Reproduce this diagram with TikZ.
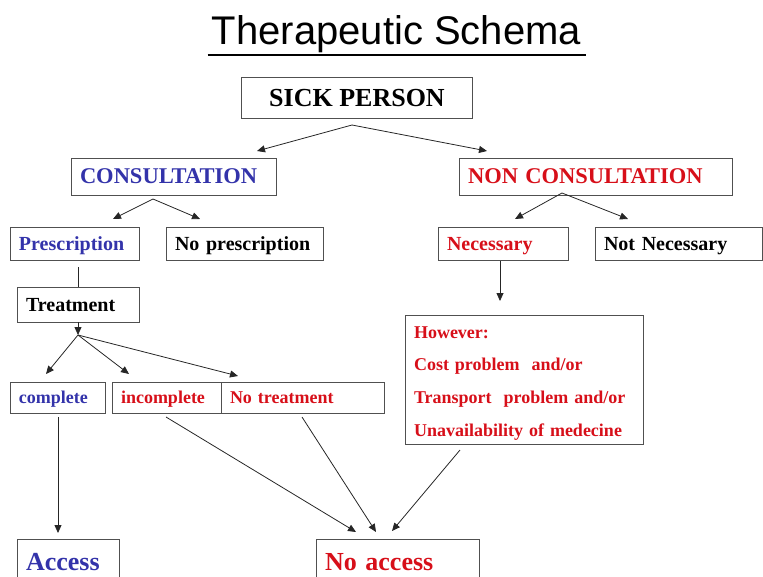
\documentclass[tikz,border=0pt]{standalone}
\usepackage{fontspec}
\setmainfont{Liberation Serif}
\newfontfamily\titlefont{Liberation Sans}
\usetikzlibrary{arrows.meta}
\definecolor{myblue}{RGB}{51,51,170}
\definecolor{myred}{RGB}{215,15,25}
\definecolor{boxgray}{RGB}{80,80,80}
\tikzset{
  bxm/.style={draw=boxgray, line width=1pt, rectangle, anchor=west, inner xsep=8.5pt, inner ysep=0pt, align=left, font=\bfseries},
  bx/.style={bxm, text depth=0pt},
  f26/.style={font=\bfseries\fontsize{26}{30}\selectfont, text height=17.2pt},
  f22/.style={font=\bfseries\fontsize{22.5}{26}\selectfont, text height=14.9pt},
  f20/.style={font=\bfseries\fontsize{20}{24}\selectfont, text height=13.2pt},
  f18/.style={font=\bfseries\fontsize{18}{22}\selectfont, text height=11.9pt},
  arr/.style={draw=black!85, line width=0.8pt, -{Triangle[length=8pt,width=7pt]}},
  ln/.style={draw=black!85, line width=0.8pt},
}
\begin{document}
\begin{tikzpicture}[x=1pt,y=-1pt]
\useasboundingbox (0,0) rectangle (763,576);
\clip (0,0) rectangle (763,576);
% title
\node[anchor=base, inner sep=0pt] (title) at (396.5,44) {\titlefont\fontsize{40}{46}\selectfont Therapeutic Schema};
\draw[line width=2.5pt] (207.5,55) -- (585.5,55);
% boxes
\node[bx, f26, minimum width=231pt, minimum height=41pt, align=center] (sick) at (241,97.5) {SICK PERSON};
\node[bx, f22, minimum width=205pt, text width=188pt, minimum height=37pt, text=myblue] (cons) at (71,176.5) {CONSULTATION};
\node[bx, f22, minimum width=273pt, text width=256pt, minimum height=37pt, text=myred] (noncons) at (459,176.5) {NON CONSULTATION};
\node[bx, f20, minimum width=129pt, text width=112pt, minimum height=33pt, text=myblue] (presc) at (10,243.5) {Prescription};
\node[bx, f20, minimum width=157pt, text width=140pt, minimum height=33pt] (nopresc) at (166,243.5) {No prescription};
\node[bx, f20, minimum width=130pt, text width=113pt, minimum height=33pt, text=myred] (nec) at (438,243.5) {Necessary};
\node[bx, f20, minimum width=167pt, text width=150pt, minimum height=33pt] (notnec) at (595,243.5) {Not Necessary};
\node[bx, f20, minimum width=122pt, text width=105pt, minimum height=35pt] (treat) at (17,304.5) {Treatment};
\node[bx, f18, minimum width=95pt, text width=78pt, minimum height=31pt, text=myblue] (compl) at (10,397.5) {complete};
\node[bx, f18, minimum width=109pt, text width=92pt, minimum height=31pt, text=myred] (incompl) at (112,397.5) {incomplete};
\node[bx, f18, minimum width=163pt, text width=146pt, minimum height=31pt, text=myred] (notreat) at (221,397.5) {No treatment};
\node[bxm, minimum width=238pt, text width=221pt, minimum height=129pt, text=myred, font=\bfseries\fontsize{18}{32.7}\selectfont] (however) at (405,379.5) {\rule{0pt}{19pt}However:\\Cost problem\ \ and/or\\Transport\ \ problem and/or\\Unavailability of medecine};
\node[bx, f26, minimum width=102pt, text width=85pt, minimum height=46pt, text=myblue] (access) at (17,562) {Access};
\node[bx, f26, minimum width=163pt, text width=146pt, minimum height=46pt, text=myred] (noaccess) at (316,562) {No access};
% connector coordinates
\coordinate (sa) at (352,125);
\coordinate (sl) at (257,151);
\coordinate (sr) at (487,151);
\coordinate (ca) at (153,199);
\coordinate (cl) at (113,219);
\coordinate (cr) at (200,219);
\coordinate (na) at (562,193);
\coordinate (nl) at (515,219);
\coordinate (nr) at (628,219);
\coordinate (pt) at (78,267);
\coordinate (tb) at (78,322);
\coordinate (ta) at (78,335);
\coordinate (t1) at (46,374);
\coordinate (t2) at (129,374);
\coordinate (t3) at (238,376);
\coordinate (cb) at (58,417);
\coordinate (at) at (58,533);
\coordinate (ib) at (166,417);
\coordinate (nb) at (302,417);
\coordinate (hb) at (460,450);
\coordinate (n1) at (356,532);
\coordinate (n2) at (376,532);
\coordinate (n3) at (392,531);
\coordinate (necb) at (500,261);
\coordinate (ht) at (500,301);
% connectors
\draw[arr] (sa) -- (sl);
\draw[arr] (sa) -- (sr);
\draw[arr] (ca) -- (cl);
\draw[arr] (ca) -- (cr);
\draw[arr] (na) -- (nl);
\draw[arr] (na) -- (nr);
\draw[ln] (pt) -- (treat.north -| pt);
\draw[arr] (tb) -- (ta);
\draw[arr] (ta) -- (t1);
\draw[arr] (ta) -- (t2);
\draw[arr] (ta) -- (t3);
\draw[arr] (cb) -- (at);
\draw[arr] (ib) -- (n1);
\draw[arr] (nb) -- (n2);
\draw[arr] (hb) -- (n3);
\draw[arr] (necb) -- (ht);
\end{tikzpicture}
\end{document}
